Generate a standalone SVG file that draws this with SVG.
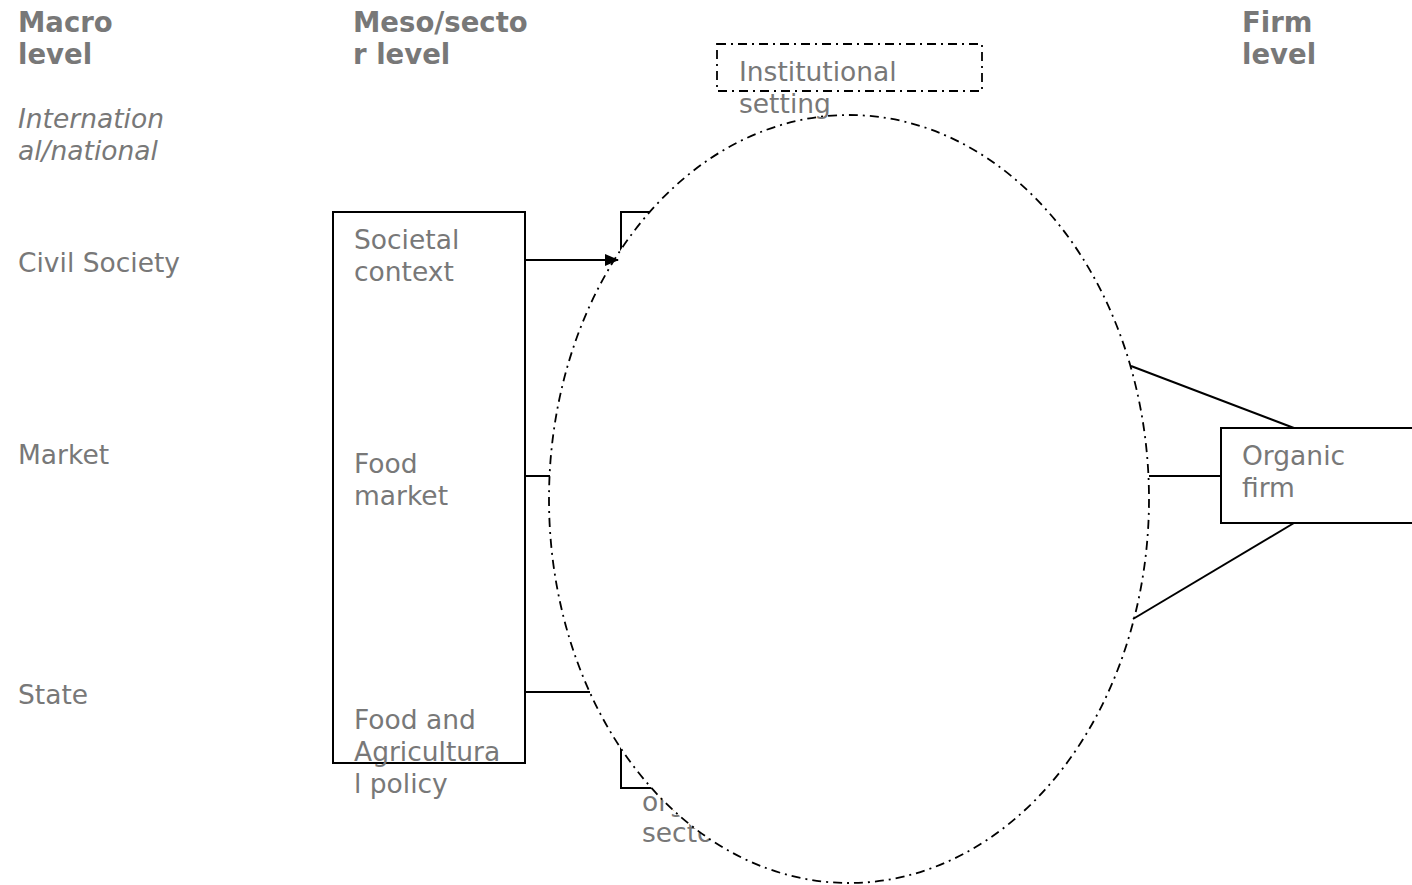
<svg xmlns="http://www.w3.org/2000/svg" width="1412" height="885" viewBox="0 0 1412 885">
<style>
text{font-family:"DejaVu Sans","Liberation Sans",sans-serif;font-size:26.5px;fill:#787878}
.b{font-weight:bold;font-size:27.5px}
.i{font-style:italic}
.box{fill:#fff;stroke:#000;stroke-width:2}
.dd{fill:none;stroke:#000;stroke-width:1.8;stroke-dasharray:9 5 2 5}
.ln{fill:none;stroke:#000;stroke-width:2}
</style>
<defs>
<marker id="ah" viewBox="0 0 14 12" refX="13" refY="6" markerWidth="14" markerHeight="12" markerUnits="userSpaceOnUse" orient="auto">
<path d="M0,0 L14,6 L0,12 Z" fill="#000"/>
</marker>
</defs>
<rect width="1412" height="885" fill="#fff"/>
<g id="labels">
<text class="b" x="18" y="32">Macro</text>
<text class="b" x="18" y="64">level</text>
<text class="i" x="18" y="128">Internation</text>
<text class="i" x="18" y="160">al/national</text>
<text x="18" y="272">Civil Society</text>
<text x="18" y="464">Market</text>
<text x="18" y="704">State</text>
<text class="b" x="353" y="32">Meso/secto</text>
<text class="b" x="353" y="64">r level</text>
<text class="b" x="1242" y="32">Firm</text>
<text class="b" x="1242" y="64">level</text>
</g>
<g id="meso-box">
<rect class="box" x="333" y="212" width="192" height="551"/>
<text x="354" y="249">Societal</text>
<text x="354" y="281">context</text>
<text x="354" y="473">Food</text>
<text x="354" y="505">market</text>
<text x="354" y="729">Food and</text>
<text x="354" y="761">Agricultura</text>
<text x="354" y="793">l policy</text>
</g>
<g id="organic-sector">
<rect class="box" x="621" y="212" width="380" height="576"/>
<text x="642" y="811">organic</text>
<text x="642" y="842">sector</text>
</g>
<g id="institutional-ellipse">
<ellipse cx="849" cy="499" rx="300" ry="384" class="dd" style="fill:#fff"/>
</g>
<g id="connectors">
<line class="ln" x1="525" y1="260" x2="618" y2="260" marker-end="url(#ah)"/>
<line class="ln" x1="525" y1="476" x2="550" y2="476"/>
<line class="ln" x1="525" y1="692" x2="590" y2="692"/>
<line class="ln" x1="1131" y1="366" x2="1294" y2="428"/>
<line class="ln" x1="1149" y1="476" x2="1221" y2="476"/>
<line class="ln" x1="1133" y1="619" x2="1294" y2="523"/>
</g>
<g id="institutional-setting">
<rect class="dd" x="717" y="44" width="265" height="47"/>
<text x="739" y="81">Institutional</text>
<text x="739" y="113">setting</text>
</g>
<g id="organic-firm">
<rect class="box" x="1221" y="428" width="200" height="95"/>
<text x="1242" y="465">Organic</text>
<text x="1242" y="497">firm</text>
</g>
</svg>
